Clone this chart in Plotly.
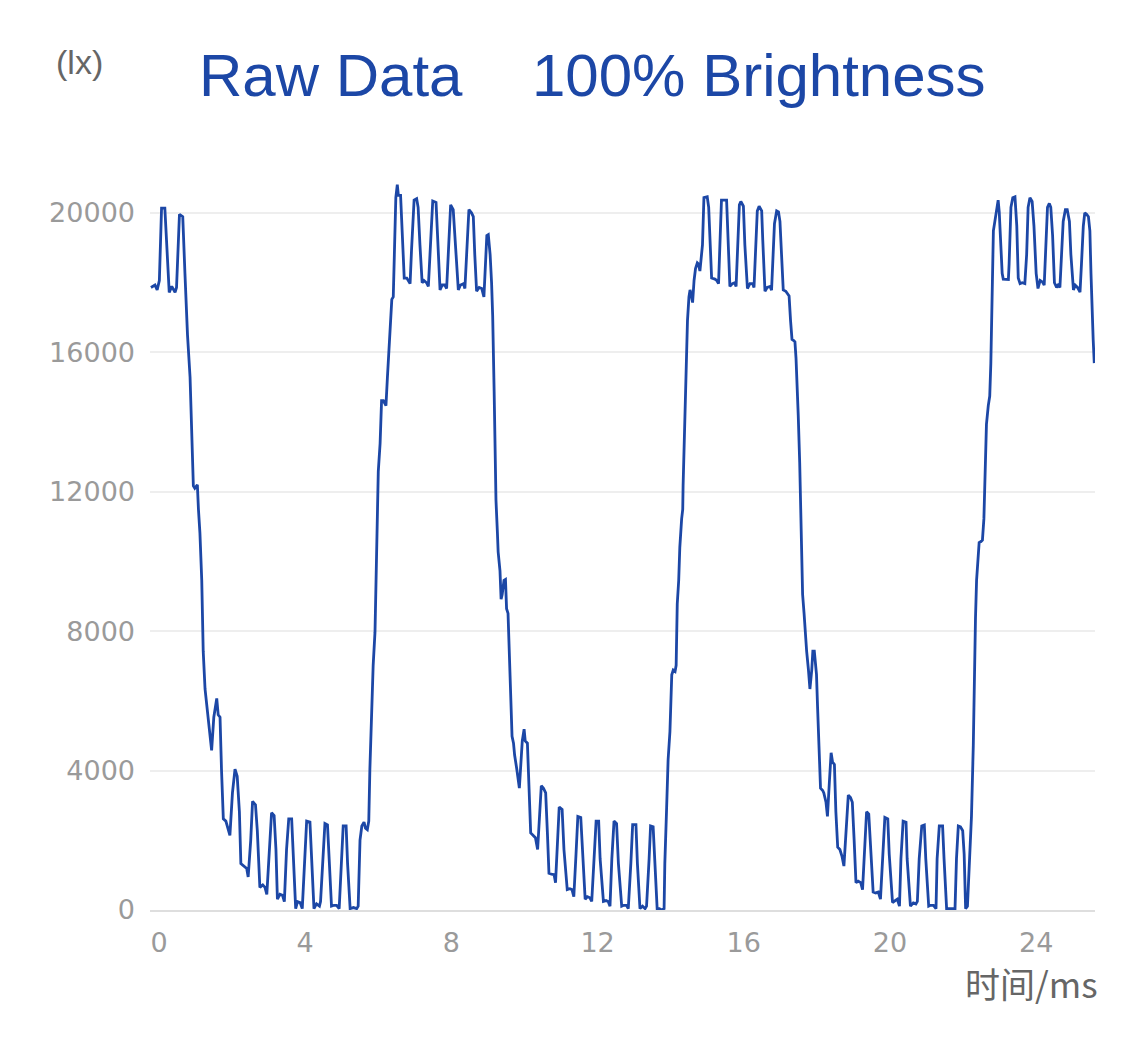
import plotly.graph_objects as go

# ---- data (time in ms, illuminance in lx) ----
t_part1 = [-0.22, -0.11, -0.05, 0.01, 0.07, 0.16, 0.28, 0.35, 0.44, 0.48, 0.56, 0.65, 0.71, 0.78, 0.85,
           0.94, 0.98, 1.05, 1.08, 1.12, 1.17, 1.21, 1.26, 1.30, 1.40, 1.44, 1.50, 1.58, 1.62, 1.67,
           1.71, 1.76, 1.83, 1.90, 1.94, 2.01, 2.08, 2.14, 2.20, 2.24, 2.33, 2.40, 2.44, 2.51, 2.56,
           2.64, 2.69, 2.76, 2.84, 2.90, 2.95, 3.02, 3.08, 3.15, 3.20, 3.24, 3.31, 3.38, 3.43, 3.49,
           3.55, 3.63, 3.68, 3.74, 3.79, 3.86, 3.92, 3.98, 4.04, 4.13, 4.18, 4.24, 4.31, 4.39, 4.42,
           4.48, 4.54, 4.61, 4.66, 4.72, 4.79, 4.86, 4.93, 4.98, 5.04, 5.12, 5.16, 5.23, 5.32, 5.41,
           5.45, 5.50, 5.55, 5.61, 5.65, 5.70, 5.74]
lux_part1 = [17860, 17930, 17790, 18060, 20135, 20135, 17720, 17890, 17720, 17860, 19960, 19890, 18265, 16500, 15285,
             12170, 12100, 12195, 11490, 10810, 9460, 7425, 6340, 5935, 5120, 4580, 5530, 6070, 5600, 5530,
             4040, 2615, 2550, 2275, 2140, 3360, 4040, 3835, 2820, 1330, 1260, 1190, 950, 2005, 3115,
             3020, 2275, 650, 720, 650, 450, 1735, 2790, 2710, 1735, 310, 450, 420, 240, 1735,
             2615, 2615, 1600, 40, 240, 215, 40, 1465, 2550, 2520, 1465, 40, 175, 110, 245,
             1465, 2480, 2440, 1465, 110, 135, 135, 40, 1330, 2410, 2410, 1330, 40, 70, 40,
             110, 2005, 2410, 2520, 2345, 2305, 2550]

t_part2 = [5.77, 5.82, 5.86, 5.91, 5.96, 6.00, 6.05, 6.09, 6.14, 6.21, 6.25, 6.28, 6.32, 6.37, 6.41,
           6.44, 6.48, 6.52, 6.55, 6.61, 6.67, 6.71, 6.78, 6.82, 6.87, 6.91, 6.98, 7.05, 7.09, 7.14,
           7.20, 7.25, 7.32, 7.37, 7.41, 7.49, 7.58, 7.62, 7.69, 7.75, 7.82, 7.87, 7.92, 7.98, 8.05,
           8.13, 8.19, 8.25, 8.33, 8.37, 8.42, 8.48, 8.55, 8.60, 8.64, 8.69, 8.76, 8.83, 8.89, 8.92,
           8.97, 9.01, 9.06, 9.10, 9.13, 9.17, 9.19, 9.22, 9.26, 9.28, 9.33, 9.36, 9.39, 9.44, 9.48,
           9.51, 9.55, 9.59, 9.62, 9.66, 9.70, 9.73, 9.79, 9.86, 9.90, 9.94, 9.99, 10.02, 10.08, 10.13,
           10.17, 10.24, 10.30, 10.36, 10.41, 10.46, 10.52, 10.58, 10.63, 10.67, 10.74, 10.81, 10.85, 10.90, 10.95,
           11.03, 11.08, 11.17, 11.24, 11.30, 11.35, 11.41, 11.46, 11.54, 11.59, 11.66, 11.72, 11.79, 11.84, 11.90,
           11.96, 12.03, 12.07, 12.16, 12.23, 12.29, 12.34, 12.39, 12.45, 12.52, 12.57, 12.66, 12.72, 12.79, 12.84,
           12.91, 12.96, 13.05, 13.09, 13.16, 13.23, 13.30, 13.34, 13.41, 13.45, 13.52, 13.57, 13.63, 13.69, 13.75,
           13.82]
lux_part2 = [4040, 6070, 7020, 7970, 10540, 12575, 13390, 14610, 14610, 14470, 15285, 15825, 16910, 17520, 17590,
             18940, 20435, 20810, 20500, 20500, 19215, 18130, 18130, 18060, 17970, 18940, 20365, 20405, 20160, 19080,
             17995, 18060, 17995, 17890, 18805, 20340, 20300, 19215, 17790, 17930, 17930, 17830, 18940, 20230, 20095,
             18940, 17790, 17930, 17970, 17830, 18805, 20095, 20000, 19890, 18805, 17750, 17860, 17830, 17590, 18265,
             19350, 19375, 18805, 17995, 17045, 14880, 12845, 11760, 10810, 10270, 9730, 8915, 9050, 9460, 9485,
             8645, 8510, 7425, 6070, 4985, 4785, 4445, 4040, 3495, 4175, 4850, 5190, 4850, 4785, 3360,
             2210, 2140, 2075, 1735, 2550, 3565, 3495, 3360, 2140, 1055, 1030, 1015, 785, 2005, 2955,
             2885, 1735, 585, 610, 585, 380, 1600, 2685, 2655, 1600, 310, 380, 350, 245, 1465,
             2550, 2550, 1465, 245, 270, 245, 110, 1465, 2550, 2480, 1330, 110, 135, 135, 40,
             1330, 2450, 2450, 1330, 40, 110, 40, 110, 1465, 2410, 2385, 1330, 40, 40, 0,
             40]

t_part3 = [13.84, 13.89, 13.93, 13.98, 14.03, 14.07, 14.12, 14.15, 14.18, 14.22, 14.25, 14.30, 14.33, 14.34, 14.37,
           14.40, 14.44, 14.46, 14.50, 14.53, 14.56, 14.60, 14.64, 14.68, 14.73, 14.76, 14.80, 14.83, 14.87, 14.91,
           15.00, 15.04, 15.08, 15.12, 15.21, 15.26, 15.31, 15.35, 15.39, 15.53, 15.58, 15.62, 15.69, 15.75, 15.79,
           15.82, 15.88, 15.92, 15.99, 16.03, 16.10, 16.17, 16.24, 16.28, 16.32, 16.37, 16.42, 16.49, 16.52, 16.58,
           16.64, 16.72, 16.76, 16.79, 16.84, 16.90, 16.95, 16.99, 17.04, 17.08, 17.15, 17.19, 17.24, 17.28, 17.32,
           17.36, 17.40, 17.43, 17.47, 17.49, 17.53, 17.56, 17.58, 17.61, 17.65, 17.68, 17.72, 17.77, 17.81, 17.86,
           17.89, 17.93, 17.97, 17.99, 18.02, 18.06, 18.10, 18.16, 18.19, 18.25, 18.29, 18.34, 18.39, 18.43, 18.48,
           18.52, 18.57, 18.63, 18.69, 18.74, 18.80, 18.86, 18.92, 18.97, 19.02, 19.07, 19.13, 19.20, 19.25, 19.30,
           19.36, 19.42, 19.47, 19.54, 19.61, 19.68, 19.74, 19.80, 19.86, 19.94, 19.98, 20.07, 20.14, 20.20, 20.26,
           20.30, 20.36, 20.44, 20.47, 20.56, 20.64, 20.71, 20.75, 20.80, 20.87, 20.94, 20.98, 21.06, 21.11, 21.19,
           21.26, 21.29, 21.35, 21.44, 21.48, 21.55, 21.64, 21.71, 21.78, 21.82, 21.87, 21.93, 21.99, 22.03, 22.07,
           22.12]
lux_part3 = [1330, 2955, 4310, 5120, 6750, 6885, 6845, 7020, 8780, 9460, 10405, 11220, 11490, 12170, 13525,
             15015, 16505, 16910, 17590, 17790, 17655, 17425, 18060, 18400, 18565, 18535, 18330, 18605, 19080, 20435,
             20460, 20160, 19215, 18130, 18100, 18060, 17970, 18940, 20365, 20365, 19215, 17890, 17970, 17995, 17890,
             18605, 20230, 20325, 20190, 19080, 17830, 17970, 17970, 17860, 18805, 20055, 20190, 20055, 19215, 17750,
             17860, 17890, 17780, 18535, 19690, 20055, 20025, 19755, 18805, 17790, 17750, 17695, 17615, 16910, 16370,
             16340, 16300, 15825, 14880, 14200, 12845, 11490, 10135, 9050, 8510, 7970, 7425, 6885, 6340, 6885,
             7425, 7425, 6885, 6750, 5800, 4715, 3495, 3430, 3360, 3090, 2685, 3630, 4510, 4240, 4175,
             2820, 1800, 1735, 1530, 1260, 2275, 3295, 3225, 3090, 2005, 785, 825, 785, 585, 1735,
             2820, 2750, 1735, 515, 490, 515, 310, 1465, 2655, 2615, 1600, 215, 270, 310, 110,
             1465, 2550, 2520, 1465, 110, 205, 175, 245, 1465, 2410, 2440, 1465, 110, 135, 135,
             40, 1465, 2410, 2410, 1465, 40, 40, 40, 40, 1465, 2410, 2385, 2275, 1600, 40,
             110]

t_part4 = [22.17, 22.23, 22.28, 22.31, 22.34, 22.37, 22.42, 22.44, 22.49, 22.53, 22.57, 22.61, 22.64, 22.69, 22.73,
           22.76, 22.79, 22.83, 22.87, 22.92, 22.96, 22.99, 23.03, 23.07, 23.10, 23.17, 23.24, 23.26, 23.31, 23.36,
           23.42, 23.47, 23.51, 23.56, 23.62, 23.69, 23.74, 23.78, 23.83, 23.89, 23.94, 24.00, 24.05, 24.11, 24.17,
           24.22, 24.27, 24.31, 24.36, 24.40, 24.45, 24.50, 24.56, 24.60, 24.65, 24.70, 24.74, 24.80, 24.85, 24.91,
           24.95, 25.02, 25.07, 25.13, 25.20, 25.24, 25.29, 25.33, 25.38, 25.43, 25.47, 25.50, 25.53, 25.56, 25.59]
lux_part4 = [1190, 2685, 4715, 7425, 8375, 9460, 10270, 10540, 10570, 10610, 11220, 12845, 13930, 14470, 14745,
             15690, 17590, 19485, 19755, 20160, 20365, 20025, 19215, 18265, 18100, 18090, 18090, 18535, 20160, 20435,
             20460, 19620, 18130, 17970, 17995, 17970, 18805, 20160, 20435, 20325, 19620, 18265, 17830, 18060, 18020,
             17925, 19080, 20160, 20270, 20160, 19350, 17995, 17860, 17925, 17860, 18805, 19755, 20095, 20095, 19755,
             18805, 17790, 17925, 17860, 17725, 18535, 19620, 20000, 19960, 19890, 19485, 18265, 17045, 16370, 15690]

y_ticks = [0, 4000, 8000, 12000, 16000, 20000]
x_ticks = [0, 4, 8, 12, 16, 20, 24]
title_left = "Raw Data"
title_right = "100% Brightness"
y_unit = "(lx)"
x_unit = "时间/ms"

t_ms = t_part1 + t_part2 + t_part3 + t_part4
lux = lux_part1 + lux_part2 + lux_part3 + lux_part4

BLUE = "#1c47a6"
TICK_FONT = dict(family="DejaVu Sans", size=27, color="#9a9a9a")

fig = go.Figure()
fig.add_trace(go.Scatter(x=t_ms, y=lux, mode="lines",
                         line=dict(color=BLUE, width=2.8), hoverinfo="skip"))

fig.update_layout(
    width=1125, height=1040,
    margin=dict(l=142, r=38, t=170, b=138),
    paper_bgcolor="white", plot_bgcolor="white",
    showlegend=False,
    xaxis=dict(range=[-0.246, 25.61], tickvals=x_ticks, ticktext=[str(v) for v in x_ticks],
               showgrid=False, zeroline=False, showline=True, linecolor="#dedede", linewidth=2,
               ticks="", tickfont=TICK_FONT, ticklabelstandoff=8),
    yaxis=dict(range=[0, 21000], tickvals=y_ticks, ticktext=[str(v) for v in y_ticks],
               showgrid=True, gridcolor="#eeeeee", gridwidth=2, zeroline=False,
               showline=False, ticks="", tickfont=TICK_FONT, ticklabelstandoff=14),
    annotations=[
        dict(text=title_left, xref="paper", yref="paper", x=0.0497, y=1.140,
             xanchor="left", yanchor="middle", showarrow=False,
             font=dict(family="Liberation Sans, Arial", size=60, color=BLUE)),
        dict(text=title_right, xref="paper", yref="paper", x=0.4021, y=1.140,
             xanchor="left", yanchor="middle", showarrow=False,
             font=dict(family="Liberation Sans, Arial", size=60, color=BLUE)),
        dict(text=y_unit, xref="paper", yref="paper", x=-0.0751, y=1.1578,
             xanchor="center", yanchor="middle", showarrow=False,
             font=dict(family="Liberation Sans, Arial", size=34, color="#666666")),
        dict(text=x_unit, xref="paper", yref="paper", x=1.0053, y=-0.0984,
             xanchor="right", yanchor="middle", showarrow=False,
             font=dict(family="Noto Sans CJK SC", size=35, color="#666666")),
    ],
)

fig.write_html("out.html")
